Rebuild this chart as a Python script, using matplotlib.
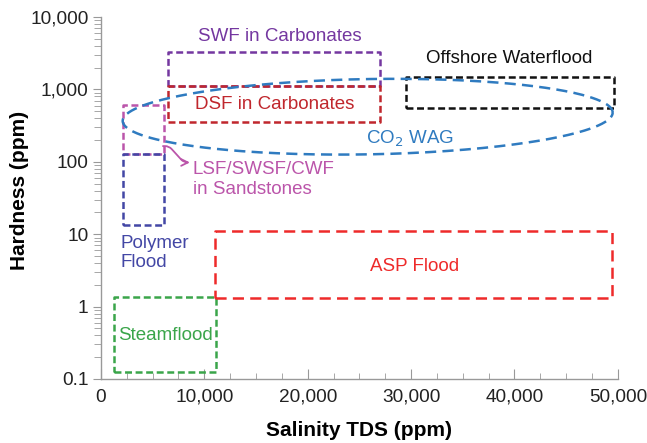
import numpy as np
import matplotlib
matplotlib.use("Agg")
import matplotlib.pyplot as plt
from matplotlib.ticker import FixedLocator, MultipleLocator, LogLocator, NullFormatter

plt.rcParams['font.family'] = ['Liberation Sans', 'DejaVu Sans']
plt.rcParams['lines.scale_dashes'] = False

# ---- data (salinity TDS ppm, hardness ppm) ----
box_names = ["SWF", "DSF", "Offshore", "LSF", "Polymer", "Steam", "ASP"]
box_x0 = [6500, 6500, 29500, 2100, 2100, 1300, 11000]
box_x1 = [27000, 27000, 49600, 6100, 6100, 11100, 49400]
box_y0 = [1100, 360, 560, 130, 13.5, 0.125, 1.3]
box_y1 = [3300, 1100, 1480, 610, 130, 1.35, 11]
box_colors = ["#7437a0", "#c0272d", "#111111", "#bb55aa", "#4347a5", "#3aa54a", "#ee2a2a"]

co2_center_x = 25800
co2_center_hardness = 420
co2_half_width = 23700
co2_half_decades = 0.52
co2_tilt_deg = 1.0

labels = ["SWF in Carbonates", "DSF in Carbonates", "Offshore Waterflood", "CO$_2$ WAG",
          "LSF/SWSF/CWF\nin Sandstones", "Polymer\nFlood", "Steamflood", "ASP Flood"]
label_x = [17300, 16800, 39500, 29900, 8900, 1900, 6200, 30300]
label_y = [5400, 620, 2700, 205, 57, 5.5, 0.40, 3.6]
label_ha = ["center", "center", "center", "center", "left", "left", "center", "center"]
label_colors = ["#7437a0", "#c0272d", "#111111", "#2f7bc0", "#bb55aa", "#4347a5", "#3aa54a", "#ee2a2a"]

x_ticks = [0, 10000, 20000, 30000, 40000, 50000]
x_tick_labels = ["0", "10,000", "20,000", "30,000", "40,000", "50,000"]
y_ticks = [0.1, 1, 10, 100, 1000, 10000]
y_tick_labels = ["0.1", "1", "10", "100", "1,000", "10,000"]

fig = plt.figure(figsize=(6.47, 4.43), dpi=100)
ax = fig.add_axes([0.156, 0.1445, 0.799, 0.817])
ax.set_yscale('log')
ax.set_xlim(0, 50000)
ax.set_ylim(0.1, 10000)

lw = 1.8
for i, name in enumerate(box_names):
    xs = [box_x0[i], box_x1[i], box_x1[i], box_x0[i], box_x0[i]]
    ys = [box_y0[i], box_y0[i], box_y1[i], box_y1[i], box_y0[i]]
    dash = (8, 4.5) if name == "ASP" else (5, 2.6)
    ax.plot(xs, ys, color=box_colors[i], lw=lw, linestyle=(0, dash),
            solid_capstyle='butt', dash_capstyle='butt')

# CO2 WAG ellipse, drawn in pixel-proportional space of (x, log10 y)
fig.canvas.draw()
bb = ax.get_window_extent()
W, H = bb.width, bb.height
sx = W / 50000.0
sy = H / 5.0
t = np.linspace(0, 2 * np.pi, 400)
a = co2_half_width * sx
b = co2_half_decades * sy
th = np.deg2rad(co2_tilt_deg)
px = a * np.cos(t) * np.cos(th) - b * np.sin(t) * np.sin(th)
py = a * np.cos(t) * np.sin(th) + b * np.sin(t) * np.cos(th)
ex = co2_center_x + px / sx
ey = 10 ** (np.log10(co2_center_hardness) + py / sy)
ax.plot(ex, ey, color="#2f7bc0", lw=lw, linestyle=(0, (8, 4.5)), dash_capstyle='butt')

for i, txt in enumerate(labels):
    ax.text(label_x[i], label_y[i], txt, color=label_colors[i], fontsize=13.5,
            ha=label_ha[i], va='center', linespacing=1.2)

# pink arrow to LSF label
ax.annotate("", xy=(8600, 98), xytext=(6000, 165),
            arrowprops=dict(arrowstyle='->', color="#bb55aa", lw=1.3,
                            connectionstyle="arc,angleA=0,angleB=180,armA=6,armB=6,rad=4",
                            shrinkA=0, shrinkB=0, mutation_scale=12))

for s in ['top', 'right']:
    ax.spines[s].set_visible(False)
for s in ['left', 'bottom']:
    ax.spines[s].set_color('#999999')
    ax.spines[s].set_linewidth(1.0)

ax.xaxis.set_major_locator(FixedLocator(x_ticks))
ax.set_xticklabels(x_tick_labels)
ax.xaxis.set_minor_locator(MultipleLocator(2500))
ax.yaxis.set_major_locator(FixedLocator(y_ticks))
ax.set_yticklabels(y_tick_labels)
ax.yaxis.set_minor_locator(LogLocator(base=10, subs=np.arange(2, 10), numticks=20))
ax.yaxis.set_minor_formatter(NullFormatter())

ax.tick_params(axis='x', which='major', direction='in', length=7, color='#999999',
               labelsize=13.7, labelcolor='#222222', pad=7)
ax.tick_params(axis='x', which='minor', direction='in', length=4, color='#999999')
ax.tick_params(axis='y', which='major', direction='out', length=6, color='#999999',
               labelsize=13.7, labelcolor='#222222', pad=3)
ax.tick_params(axis='y', which='minor', direction='out', length=5, color='#999999')

ax.set_xlabel("Salinity TDS (ppm)", fontsize=15, fontweight='bold', labelpad=11)
ax.set_ylabel("Hardness (ppm)", fontsize=15, fontweight='bold', labelpad=1)
ax.yaxis.label.set_y(0.52)

fig.savefig("out.png", dpi=100)
